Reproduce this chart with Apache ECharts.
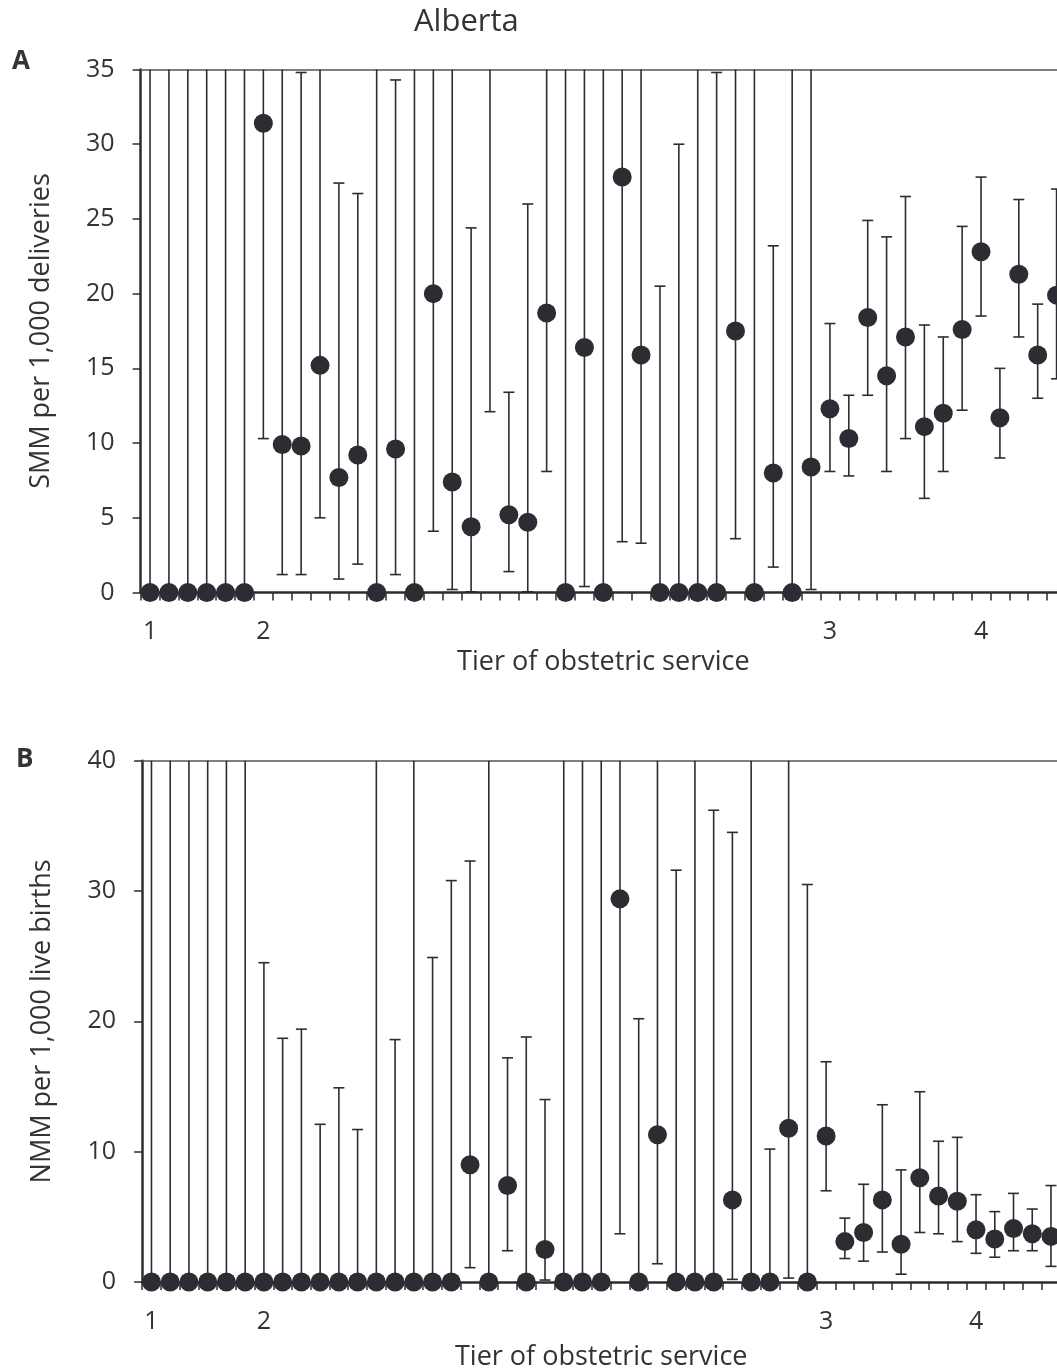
<!DOCTYPE html>
<html><head><meta charset="utf-8">
<script src="https://cdn.jsdelivr.net/npm/echarts@6/dist/echarts.min.js"></script>
<style>html,body{margin:0;padding:0;background:#fff}#c{width:1057px;height:1369px}</style>
</head><body><div id="c"></div>
<script>
// ---- Data (one entry per hospital, ordered by tier) ----
// null upper = interval extends beyond axis maximum; null rate = point above axis
const smmRate  = [0,0,0,0,0,0, 31.4,9.9,9.8,15.2,7.7,9.2,0,9.6,0,20.0,7.4,4.4,null,5.2,4.7,18.7,0,16.4,0,27.8,15.9,0,0,0,0,17.5,0,8.0,0,8.4, 12.3,10.3,18.4,14.5,17.1,11.1,12.0,17.6, 22.8,11.7,21.3,15.9,19.9];
const smmLower = [0,0,0,0,0,0, 10.3,1.2,1.2,5.0,0.9,1.9,0,1.2,0,4.1,0.2,0.05,12.1,1.4,0.05,8.1,0,0.4,0,3.4,3.3,0,0,0,0,3.6,0,1.7,0,0.2, 8.1,7.8,13.2,8.1,10.3,6.3,8.1,12.2, 18.5,9.0,17.1,13.0,14.3];
const smmUpper = [null,null,null,null,null,null, null,null,34.8,null,27.4,26.7,null,34.3,null,null,null,24.4,null,13.4,26.0,null,null,null,null,null,null,20.5,30.0,null,34.8,null,null,23.2,null,null, 18.0,13.2,24.9,23.8,26.5,17.9,17.1,24.5, 27.8,15.0,26.3,19.3,27.0];

const nmmRate  = [0,0,0,0,0,0, 0,0,0,0,0,0,0,0,0,0,0,9.0,0,7.4,0,2.5,0,0,0,29.4,0,11.3,0,0,0,6.3,0,0,11.8,0, 11.2,3.1,3.8,6.3,2.9,8.0,6.6,6.2, 4.0,3.3,4.1,3.7,3.5];
const nmmLower = [0,0,0,0,0,0, 0,0,0,0,0,0,0,0,0,0,0,1.1,0,2.4,0,0.15,0,0,0,3.7,0,1.4,0,0,0,0.2,0,0,0.3,0, 7.0,1.8,1.6,2.3,0.6,3.8,3.7,3.1, 2.2,1.9,2.4,2.4,1.2];
const nmmUpper = [null,null,null,null,null,null, 24.5,18.7,19.4,12.1,14.9,11.7,null,18.6,null,24.9,30.8,32.3,null,17.2,18.8,14.0,null,null,null,null,20.2,null,31.6,null,36.2,34.5,null,10.2,null,30.5, 16.9,4.9,7.5,13.6,8.6,14.6,10.8,11.1, 6.7,5.4,6.8,5.6,7.4];

const hospitals = smmRate.map((_, i) => 'H' + (i + 1));
const tierTickPos  = [0, 6, 36, 44];
const tierTickText = ['1', '2', '3', '4'];

// ---- Styling ----
const ink = '#2b2d33';
const txt = '#333333';
const FONT = '"Open Sans", "Noto Sans", sans-serif';

function tierLabel(v, i) {
  const j = tierTickPos.indexOf(i);
  return j >= 0 ? tierTickText[j] : '';
}
function errData(lo, hi, yMax) {
  return lo.map((l, i) => [i, l, hi[i] == null ? yMax : hi[i], hi[i] == null ? 0 : 1]);
}
function errRender(params, api) {
  const x = api.value(0), lo = api.value(1), hi = api.value(2), cap = api.value(3);
  const pLo = api.coord([x, lo]), pHi = api.coord([x, hi]);
  const w = 5.5, st = { stroke: ink, lineWidth: 1.6 };
  const ch = [
    { type: 'line', shape: { x1: pLo[0], y1: pLo[1], x2: pHi[0], y2: pHi[1] }, style: st },
    { type: 'line', shape: { x1: pLo[0] - w, y1: pLo[1], x2: pLo[0] + w, y2: pLo[1] }, style: st }
  ];
  if (cap) ch.push({ type: 'line', shape: { x1: pHi[0] - w, y1: pHi[1], x2: pHi[0] + w, y2: pHi[1] }, style: st });
  return { type: 'group', children: ch };
}
function bottomAxis(g, gap) {
  return {
    gridIndex: g, type: 'category', data: hospitals, boundaryGap: true,
    axisLine: { onZero: false, lineStyle: { color: ink, width: 2.5 } },
    axisTick: { show: true, interval: 0, length: 8, lineStyle: { color: ink, width: 1.5 } },
    axisLabel: { interval: 0, formatter: tierLabel, margin: 27, fontSize: 25, color: txt, fontFamily: FONT },
    name: 'Tier of obstetric service', nameLocation: 'middle', nameGap: gap,
    nameTextStyle: { fontSize: 27, color: txt, fontFamily: FONT }
  };
}
function topAxis(g) {
  return {
    gridIndex: g, type: 'category', data: hospitals, position: 'top', boundaryGap: true,
    axisLine: { onZero: false, lineStyle: { color: '#555', width: 1.5 } },
    axisTick: { show: false }, axisLabel: { show: false }
  };
}
function leftAxis(g, max, interval, name, gap) {
  return {
    gridIndex: g, type: 'value', min: 0, max: max, interval: interval,
    axisLine: { show: true, lineStyle: { color: ink, width: 2.5 } },
    axisTick: { show: true, length: 8, lineStyle: { color: ink, width: 1.5 } },
    splitLine: { show: false },
    axisLabel: { margin: 26, fontSize: 25, color: txt, fontFamily: FONT },
    name: name, nameLocation: 'middle', nameGap: gap, nameRotate: 90,
    nameTextStyle: { fontSize: 27, color: txt, fontFamily: FONT }
  };
}

const chart = echarts.init(document.getElementById('c'), null, { renderer: 'canvas' });
chart.setOption({
  animation: false,
  backgroundColor: '#fff',
  textStyle: { fontFamily: FONT },
  grid: [
    { left: 140.6, top: 69.5, width: hospitals.length * 18.886, height: 523, outerBoundsMode: 'none', containLabel: false },
    { left: 142.1, top: 760.7, width: hospitals.length * 18.74, height: 521.3, outerBoundsMode: 'none', containLabel: false }
  ],
  xAxis: [bottomAxis(0, 56), topAxis(0), bottomAxis(1, 62), topAxis(1)],
  yAxis: [
    leftAxis(0, 35, 5, 'SMM per 1,000 deliveries', 86),
    leftAxis(1, 40, 10, 'NMM per 1,000 live births', 86)
  ],
  graphic: [
    { type: 'text', left: 414, top: 7, style: { text: 'Alberta', fontSize: 31, fill: txt, fontFamily: FONT } },
    { type: 'text', left: 12, top: 49, style: { text: 'A', fontSize: 26, fontWeight: 'bold', fill: txt, fontFamily: FONT } },
    { type: 'text', left: 16, top: 747, style: { text: 'B', fontSize: 26, fontWeight: 'bold', fill: txt, fontFamily: FONT } }
  ],
  series: [
    { type: 'custom', xAxisIndex: 0, yAxisIndex: 0, renderItem: errRender, data: errData(smmLower, smmUpper, 35), z: 2 },
    { type: 'scatter', xAxisIndex: 0, yAxisIndex: 0, data: smmRate.map((v, i) => [i, v]), symbolSize: 19,
      itemStyle: { color: ink, opacity: 1 }, z: 3 },
    { type: 'custom', xAxisIndex: 2, yAxisIndex: 1, renderItem: errRender, data: errData(nmmLower, nmmUpper, 40), z: 2 },
    { type: 'scatter', xAxisIndex: 2, yAxisIndex: 1, data: nmmRate.map((v, i) => [i, v]), symbolSize: 19,
      itemStyle: { color: ink, opacity: 1 }, z: 3 }
  ]
});
</script></body></html>
